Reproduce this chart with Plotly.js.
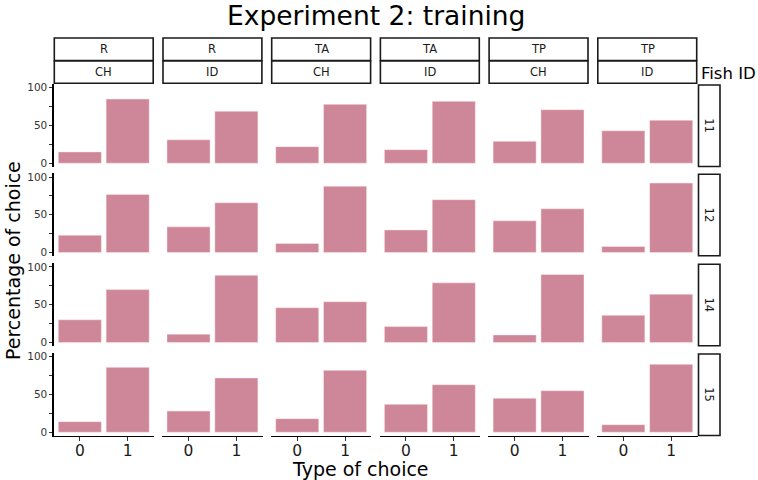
<!DOCTYPE html>
<html>
<head>
<meta charset="utf-8">
<script src="https://cdn.plot.ly/plotly-3.0.1.min.js"></script>
<style>html,body{margin:0;padding:0;background:#fff;}#chart{width:758px;height:480px;}</style>
</head>
<body>
<div id="chart"></div>
<script>
// ---- data ----
var fishIDs = ["11", "12", "14", "15"];
var groupTop = ["R", "R", "TA", "TA", "TP", "TP"];
var groupBottom = ["CH", "ID", "CH", "ID", "CH", "ID"];
var choiceTypes = ["0", "1"];
var yTickVals = [0, 50, 100];
var yTickText = ["0", "50", "100"];

var choice0_11 = [15, 31, 22, 18, 29, 43];
var choice1_11 = [85, 69, 78, 82, 71, 57];
var choice0_12 = [23, 34, 12, 30, 42, 8];
var choice1_12 = [77, 66, 88, 70, 58, 92];
var choice0_14 = [30, 11, 46, 21, 10, 36];
var choice1_14 = [70, 89, 54, 79, 90, 64];
var choice0_15 = [14, 28, 18, 37, 45, 10];
var choice1_15 = [86, 72, 82, 63, 55, 90];

var choice0 = [choice0_11, choice0_12, choice0_14, choice0_15];
var choice1 = [choice1_11, choice1_12, choice1_14, choice1_15];

// ---- layout geometry (pixels) ----
var W = 758, H = 480;
var colLeft = 53.5, colW = 100.5, colPitch = 108.7;
var rowTops = [84.0, 173.3, 263.2, 353.0], rowH = 83;
var FONT = "DejaVu Sans, Verdana, sans-serif";
var barColor = "#CD8798";

function px(x) { return x / W; }
function py(y) { return 1 - y / H; }

var traces = [];
var layout = {
  width: W, height: H,
  margin: {l: 0, r: 0, t: 0, b: 0},
  paper_bgcolor: "#ffffff",
  plot_bgcolor: "#ffffff",
  showlegend: false,
  font: {family: FONT, color: "#1a1a1a"},
  shapes: [],
  annotations: []
};

// title as annotation
layout.annotations.push({
  text: "Experiment 2: training", xref: "paper", yref: "paper",
  x: px(376), y: py(16), xanchor: "center", yanchor: "middle", showarrow: false,
  font: {family: FONT, size: 26.5, color: "#000000"}
});

for (var c = 0; c < 6; c++) {
  var xl = colLeft + c * colPitch;
  var name = c === 0 ? "xaxis" : "xaxis" + (c + 1);
  layout[name] = {
    domain: [px(xl), px(xl + colW)],
    anchor: "y4",
    type: "category",
    range: [-0.55, 1.55],
    showgrid: false, zeroline: false,
    showline: true, linecolor: "#000000", linewidth: 1.1,
    ticks: "outside", ticklen: 4, tickcolor: "#333333", tickwidth: 1,
    ticklabelstandoff: -4,
    tickfont: {family: FONT, size: 15.5, color: "#1a1a1a"},
    fixedrange: true
  };
  // top strips
  var stripRows = [[38, 60.5, groupTop[c]], [61, 83.3, groupBottom[c]]];
  for (var s = 0; s < 2; s++) {
    layout.shapes.push({
      type: "rect", xref: "paper", yref: "paper",
      x0: px(xl + 0.8), x1: px(xl + colW - 0.8),
      y0: py(stripRows[s][1]), y1: py(stripRows[s][0]),
      line: {color: "#1a1a1a", width: 1.6}, fillcolor: "#ffffff"
    });
    layout.annotations.push({
      text: stripRows[s][2], xref: "paper", yref: "paper",
      x: px(xl + colW / 2), y: py((stripRows[s][0] + stripRows[s][1]) / 2),
      xanchor: "center", yanchor: "middle", showarrow: false,
      font: {family: FONT, size: 11.5, color: "#1a1a1a"}
    });
  }
}

for (var r = 0; r < 4; r++) {
  var yt = rowTops[r];
  var yname = r === 0 ? "yaxis" : "yaxis" + (r + 1);
  layout[yname] = {
    domain: [py(yt + rowH), py(yt)],
    anchor: "x",
    range: [-5, 105],
    showgrid: false, zeroline: false,
    showline: true, linecolor: "#000000", linewidth: 1.1,
    tickvals: yTickVals, ticktext: yTickText,
    ticks: "outside", ticklen: 3, tickcolor: "#333333", tickwidth: 1,
    minor: {tickvals: [25, 75], ticks: "outside", ticklen: 3, tickcolor: "#333333", tickwidth: 1, showgrid: false},
    tickfont: {family: FONT, size: 10.5, color: "#333333"},
    fixedrange: true
  };
  // right strip
  layout.shapes.push({
    type: "rect", xref: "paper", yref: "paper",
    x0: px(698.5), x1: px(720),
    y0: py(yt + rowH - 0.5), y1: py(yt + 1),
    line: {color: "#1a1a1a", width: 1.6}, fillcolor: "#ffffff"
  });
  layout.annotations.push({
    text: fishIDs[r], xref: "paper", yref: "paper",
    x: px(709.2), y: py(yt + rowH / 2),
    xanchor: "center", yanchor: "middle", showarrow: false, textangle: 90,
    font: {family: FONT, size: 11.5, color: "#1a1a1a"}
  });

  for (var c2 = 0; c2 < 6; c2++) {
    traces.push({
      type: "bar",
      x: choiceTypes,
      y: [choice0[r][c2], choice1[r][c2]],
      width: 0.9,
      marker: {color: barColor, line: {color: "rgba(255,235,240,0.8)", width: 0.6}},
      xaxis: c2 === 0 ? "x" : "x" + (c2 + 1),
      yaxis: r === 0 ? "y" : "y" + (r + 1),
      hoverinfo: "none"
    });
  }
}

// axis titles & facet label
layout.annotations.push({
  text: "Type of choice", xref: "paper", yref: "paper",
  x: px(360), y: py(469), xanchor: "center", yanchor: "middle", showarrow: false,
  font: {family: FONT, size: 19, color: "#000000"}
});
layout.annotations.push({
  text: "Percentage of choice", xref: "paper", yref: "paper",
  x: px(13), y: py(261), xanchor: "center", yanchor: "middle", showarrow: false,
  textangle: -90,
  font: {family: FONT, size: 19, color: "#000000"}
});
layout.annotations.push({
  text: "Fish ID", xref: "paper", yref: "paper",
  x: px(699), y: py(73), xanchor: "left", yanchor: "middle", showarrow: false,
  font: {family: FONT, size: 16.5, color: "#000000"}
});

Plotly.newPlot("chart", traces, layout, {displayModeBar: false, staticPlot: true});
</script>
</body>
</html>
